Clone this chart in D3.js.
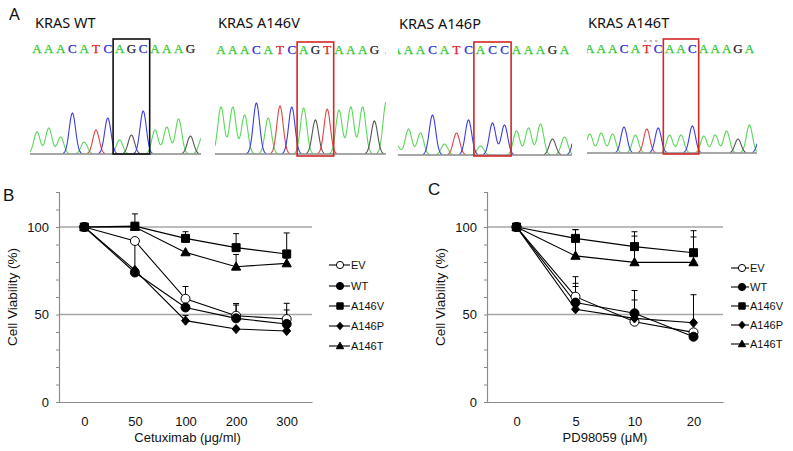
<!DOCTYPE html>
<html><head><meta charset="utf-8">
<script src="https://cdn.jsdelivr.net/npm/d3@7"></script>
<style>body{margin:0;background:#fff} svg{display:block}</style>
</head><body><svg id="c" width="793" height="451"></svg>
<script>
// ---------------- Data ----------------
const chromTitles = ["KRAS WT", "KRAS A146V", "KRAS A146P", "KRAS A146T"];
const chromSeqs = ["AAACATCAGCAAAG.", "AAACATCAGTAAAG.", "AAACATCACCAAAGA", "AAACATCAACAAAGA"];
const chromPeakBases = ["AAACATCAGCAAAGA", "AAACATCAGTAAAGA", "AAACATCACCAAAGAC", "AAACATCAACAAAGAC"];
const chromPeakHeights = [
  [22, 26, 17, 41, 12, 24, 36, 14, 19, 43, 24, 27, 35, 18, 17],
  [47, 47, 39, 51, 36, 48, 47, 46, 34, 45, 44, 47, 47, 33, 52],
  [10, 26, 22, 40, 11, 22, 35, 9, 32, 30, 24, 27, 31, 16, 18, 30],
  [19, 20, 19, 26, 18, 24, 25, 18, 18, 27, 17, 18, 22, 14, 28, 20]
];
const boxedBases = [[7, 9], [7, 9], [7, 9], [7, 9]];

const seriesNames = ["EV", "WT", "A146V", "A146P", "A146T"];

const cetuxDoses = ["0", "50", "100", "200", "300"];
const cetuxEV    = [100, 92, 59, 49.3, 47.4];
const cetuxWT    = [100, 74, 54, 47.8, 44.6];
const cetuxV     = [100, 100.5, 93.5, 88.2, 84.6];
const cetuxP     = [100, 75.4, 46.5, 41.7, 40.6];
const cetuxT     = [100, 100, 85.5, 77.3, 79.2];
const cetuxErrEV = [0, 0, 7, 7, 9];
const cetuxErrWT = [0, 17, 0, 7.6, 8];
const cetuxErrV  = [0, 7, 3.8, 8, 12];
const cetuxErrP  = [0, 0, 3, 1, 1];
const cetuxErrT  = [0, 0, 0, 7, 3];

const pdDoses = ["0", "5", "10", "20"];
const pdEV    = [100, 60.2, 45.9, 39.8];
const pdWT    = [100, 56.8, 50.7, 37.3];
const pdV     = [100, 93.5, 88.8, 85.3];
const pdP     = [100, 53, 47.8, 45.3];
const pdT     = [100, 83.5, 79.8, 79.8];
const pdErrEV = [0, 11.4, 0, 0];
const pdErrWT = [0, 11, 13, 0];
const pdErrV  = [0, 5, 8.5, 12.6];
const pdErrP  = [0, 13, 10.5, 16];
const pdErrT  = [0, 15, 15, 14.5];

const yTickValues = [0, 10, 20, 30, 40, 50, 60, 70, 80, 90, 100, 110, 120];
const yTickLabels = [0, 50, 100];
const gridValues = [50, 100];

// ---------------- Layout / style ----------------
const svg = d3.select("#c");
const SANS = "'Liberation Sans', Arial, sans-serif";
const TITLE = "'Noto Sans', 'Liberation Sans', sans-serif";

const letterColor = {A: "#2cc82c", C: "#2b2bd6", G: "#222", T: "#dd2222", ".": "#999"};
const traceColor  = {A: "#5ad85a", C: "#3d3de0", G: "#555", T: "#e04545"};

const chromLayout = [
  {x0: 37,    s: 11.8, letterY: 53, baseY: 154, box: [39, 154], clip: [30, 201],  titleX: 35,  titleY: 28, boxColor: "#111"},
  {x0: 221,   s: 11.8, letterY: 54, baseY: 154, box: [42, 156], clip: [215, 386], titleX: 218, titleY: 28, boxColor: "#d42626"},
  {x0: 396.5, s: 12,   letterY: 54, baseY: 155, box: [42, 156], clip: [398, 572], titleX: 399, titleY: 29, boxColor: "#d42626"},
  {x0: 589.8, s: 11.4, letterY: 53, baseY: 153, box: [39, 154], clip: [587, 757], titleX: 588, titleY: 28, boxColor: "#d42626"}
];

svg.append("text").attr("x", 9).attr("y", 20).attr("font-family", TITLE)
  .attr("font-size", 17).attr("fill", "#111").text("A");

chromLayout.forEach((L, k) => {
  const g = svg.append("g");
  const xb = d3.scaleLinear().domain([0, 1]).range([L.x0, L.x0 + L.s]);
  const yh = d3.scaleLinear().domain([0, 1]).range([L.baseY, L.baseY - 1]);
  const cid = "clip" + k;
  svg.append("clipPath").attr("id", cid).append("rect")
    .attr("x", L.clip[0]).attr("y", 30).attr("width", L.clip[1] - L.clip[0]).attr("height", 130);

  g.append("text").attr("x", L.titleX).attr("y", L.titleY).attr("font-family", TITLE)
    .attr("font-size", 14.5).attr("fill", "#111").text(chromTitles[k]);

  const cg = g.append("g").attr("clip-path", `url(#${cid})`);
  // sequence letters
  cg.selectAll("text.l").data(chromSeqs[k].split("")).join("text")
    .attr("x", (d, i) => xb(i)).attr("y", L.letterY).attr("text-anchor", "middle")
    .attr("font-family", "'Liberation Serif', 'DejaVu Serif', serif").attr("font-size", 13)
    .attr("stroke", d => letterColor[d]).attr("stroke-width", 0.25)
    .attr("fill", d => letterColor[d]).text(d => d);

  // traces: one per base colour
  const bases = chromPeakBases[k].split("");
  const sigma = 0.27;
  const xs = d3.range(L.clip[0], L.clip[1] + 0.01, 0.5);
  ["A", "G", "T", "C"].forEach(b => {
    const pk = bases.map((bb, i) => ({b: bb, i, h: chromPeakHeights[k][i]})).filter(p => p.b === b);
    if (!pk.length) return;
    const pts = xs.map(px => {
      const u = xb.invert(px);
      const v = d3.sum(pk, p => p.h * Math.exp(-((u - p.i) ** 2) / (2 * sigma * sigma)));
      return [px, v];
    });
    cg.append("path")
      .attr("d", d3.line().defined(p => p[1] > 0.4).x(p => p[0]).y(p => yh(p[1]))(pts))
      .attr("fill", "none").attr("stroke", traceColor[b]).attr("stroke-width", 1.1);
  });

  // baseline
  cg.append("line").attr("x1", L.clip[0]).attr("x2", L.clip[1])
    .attr("y1", L.baseY).attr("y2", L.baseY).attr("stroke", "#8a8a8a").attr("stroke-width", 1.6);

  // box around codon
  const [b0, b1] = boxedBases[k];
  g.append("rect").attr("x", xb(b0 - 0.55)).attr("y", L.box[0])
    .attr("width", xb(b1 + 0.55) - xb(b0 - 0.55)).attr("height", L.box[1] - L.box[0])
    .attr("fill", "none").attr("stroke", L.boxColor).attr("stroke-width", 1.6);
});
// small dashes above the A146T sequence
svg.append("line").attr("x1", 644).attr("x2", 660).attr("y1", 41).attr("y2", 41)
  .attr("stroke", "#666").attr("stroke-width", 0.9).attr("stroke-dasharray", "2.5,3");

// ---------------- line charts ----------------
const sym = {
  EV:    {fill: "#fff", draw: (c, s) => { c.moveTo(4.5 * s, 0); c.arc(0, 0, 4.5 * s, 0, 2 * Math.PI); }},
  WT:    {fill: "#000", draw: (c, s) => { c.moveTo(4.5 * s, 0); c.arc(0, 0, 4.5 * s, 0, 2 * Math.PI); }},
  A146V: {fill: "#000", draw: (c, s) => { c.rect(-4 * s, -4 * s, 8 * s, 8 * s); }},
  A146P: {fill: "#000", draw: (c, s) => { c.moveTo(0, -4.6 * s); c.lineTo(4 * s, 0); c.lineTo(0, 4.6 * s); c.lineTo(-4 * s, 0); c.closePath(); }},
  A146T: {fill: "#000", draw: (c, s) => { c.moveTo(0, -4.8 * s); c.lineTo(4.6 * s, 3.4 * s); c.lineTo(-4.6 * s, 3.4 * s); c.closePath(); }}
};
function symPath(name, s) {
  return d3.symbol().type({draw: (c) => sym[name].draw(c, s)})();
}

function drawChart(cfg) {
  const g = svg.append("g");
  const x = d3.scalePoint().domain(cfg.cats).range([cfg.left, cfg.right]).padding(0.5);
  const y = d3.scaleLinear().domain([0, 120]).range([402, 192]);

  g.append("text").attr("x", cfg.labelX).attr("y", cfg.labelY).attr("font-family", SANS)
    .attr("font-size", 17).attr("fill", "#111").text(cfg.label);

  g.selectAll("line.grid").data(gridValues).join("line")
    .attr("x1", cfg.left).attr("x2", cfg.right).attr("y1", d => y(d)).attr("y2", d => y(d))
    .attr("stroke", "#a6a6a6").attr("stroke-width", 1.3);

  const ya = g.append("g").attr("transform", `translate(${cfg.left},0)`)
    .call(d3.axisLeft(y).tickValues(yTickValues).tickSize(3).tickPadding(7)
      .tickFormat(d => yTickLabels.includes(d) ? d : ""));
  ya.select(".domain").attr("stroke", "#8c8c8c").attr("stroke-width", 1.2);
  ya.selectAll(".tick line").attr("stroke", "#8c8c8c");
  ya.selectAll("text").attr("font-family", SANS).attr("font-size", 13).attr("fill", "#111");

  const xa = g.append("g").attr("transform", "translate(0,402)")
    .call(d3.axisBottom(x).tickSize(0).tickPadding(15));
  xa.select(".domain").attr("stroke", "#8c8c8c").attr("stroke-width", 1.2);
  xa.selectAll("text").attr("font-family", SANS).attr("font-size", 13).attr("fill", "#111");

  g.append("text").attr("transform", `translate(${cfg.yTitleX},297) rotate(-90)`)
    .attr("text-anchor", "middle").attr("font-family", SANS).attr("font-size", 13.5)
    .attr("fill", "#111").text("Cell Viability (%)");
  g.append("text").attr("x", (cfg.left + cfg.right) / 2 + cfg.xTitleDx).attr("y", 442)
    .attr("text-anchor", "middle").attr("font-family", SANS).attr("font-size", 13)
    .attr("fill", "#111").text(cfg.xTitle);

  const line = d3.line().x((d, i) => x(cfg.cats[i])).y(d => y(d));
  // error bars
  cfg.order.forEach(n => {
    const s = cfg.series[n];
    s.vals.forEach((v, i) => {
      const e = s.err[i];
      if (!e) return;
      const cx = x(cfg.cats[i]);
      g.append("line").attr("x1", cx).attr("x2", cx).attr("y1", y(v)).attr("y2", y(v + e))
        .attr("stroke", "#000").attr("stroke-width", 1);
      g.append("line").attr("x1", cx - 3).attr("x2", cx + 3).attr("y1", y(v + e)).attr("y2", y(v + e))
        .attr("stroke", "#000").attr("stroke-width", 1);
    });
  });
  cfg.order.forEach(n => {
    g.append("path").attr("d", line(cfg.series[n].vals)).attr("fill", "none")
      .attr("stroke", "#000").attr("stroke-width", 1.1);
  });
  cfg.order.forEach(n => {
    g.selectAll(null).data(cfg.series[n].vals).join("path")
      .attr("transform", (d, i) => `translate(${x(cfg.cats[i])},${y(d)})`)
      .attr("d", symPath(n, 1)).attr("fill", sym[n].fill).attr("stroke", "#000").attr("stroke-width", 1);
  });

  // legend
  const lg = g.append("g");
  seriesNames.forEach((n, i) => {
    const ly = cfg.legY[i];
    lg.append("line").attr("x1", cfg.legX[0]).attr("x2", cfg.legX[2]).attr("y1", ly).attr("y2", ly)
      .attr("stroke", "#000").attr("stroke-width", 1.1);
    lg.append("path").attr("transform", `translate(${cfg.legX[1]},${ly})`).attr("d", symPath(n, 0.8))
      .attr("fill", sym[n].fill).attr("stroke", "#000").attr("stroke-width", 1);
    lg.append("text").attr("x", cfg.legX[2] + 1).attr("y", ly + 3.8).attr("font-family", SANS)
      .attr("font-size", 11).attr("fill", "#111").text(n);
  });
}

drawChart({
  cats: cetuxDoses, left: 59, right: 312, label: "B", labelX: 3, labelY: 201,
  yTitleX: 17, xTitle: "Cetuximab (\u03bcg/ml)", xTitleDx: 2,
  order: ["EV", "A146P", "A146T", "A146V", "WT"],
  series: {
    EV: {vals: cetuxEV, err: cetuxErrEV}, WT: {vals: cetuxWT, err: cetuxErrWT},
    A146V: {vals: cetuxV, err: cetuxErrV}, A146P: {vals: cetuxP, err: cetuxErrP},
    A146T: {vals: cetuxT, err: cetuxErrT}
  },
  legX: [329, 340, 350], legY: [265, 286, 306, 326, 346]
});
drawChart({
  cats: pdDoses, left: 487, right: 723, label: "C", labelX: 428, labelY: 195,
  yTitleX: 445, xTitle: "PD98059 (\u03bcM)", xTitleDx: 0,
  order: ["EV", "WT", "A146P", "A146T", "A146V"],
  series: {
    EV: {vals: pdEV, err: pdErrEV}, WT: {vals: pdWT, err: pdErrWT},
    A146V: {vals: pdV, err: pdErrV}, A146P: {vals: pdP, err: pdErrP},
    A146T: {vals: pdT, err: pdErrT}
  },
  legX: [731, 742, 749], legY: [268, 287, 306, 325, 344]
});
</script></body></html>
